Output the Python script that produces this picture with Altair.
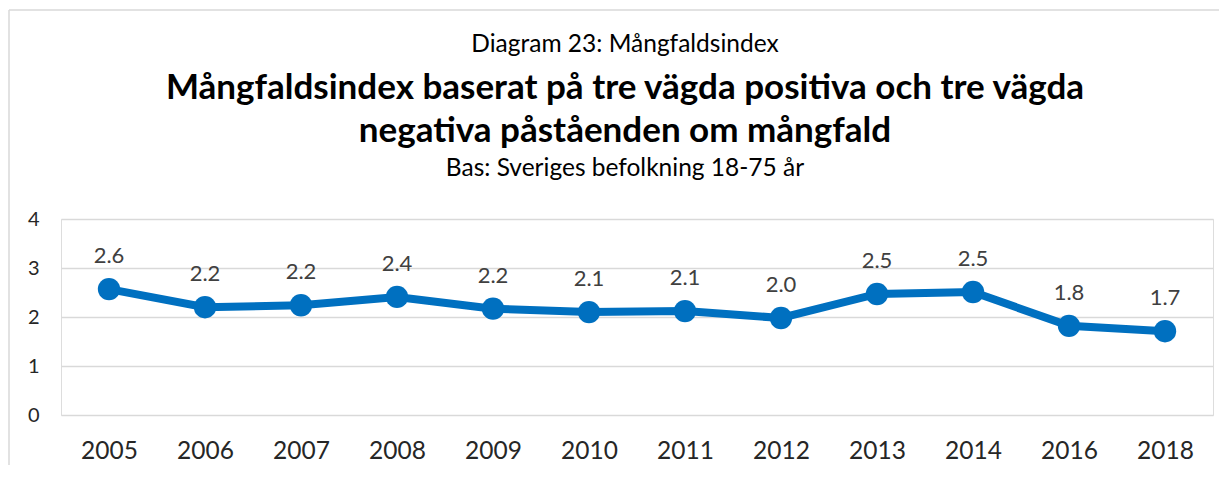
import altair as alt
import pandas as pd

years = ["2005", "2006", "2007", "2008", "2009", "2010", "2011", "2012", "2013", "2014", "2016", "2018"]
values = [2.57, 2.20, 2.24, 2.41, 2.17, 2.10, 2.12, 1.98, 2.47, 2.51, 1.82, 1.71]

pre_title = "Diagram 23: Mångfaldsindex"
title_lines = ["Mångfaldsindex baserat på tre vägda positiva och tre vägda",
               "negativa påståenden om mångfald"]
subtitle = "Bas: Sveriges befolkning 18-75 år"

df = pd.DataFrame({"year": years, "value": values})

FONT = "Lato"
BLUE = "#0070C0"

x = alt.X("year:N", sort=years, title=None,
          scale=alt.Scale(type="point", padding=0.5),
          axis=alt.Axis(labelAngle=0, labelFontSize=24.5, labelColor="#262626",
                        labelPadding=24, domain=False, ticks=False, grid=False,
                        labelFont=FONT))
y = alt.Y("value:Q", title=None,
          scale=alt.Scale(domain=[0, 4], nice=False),
          axis=alt.Axis(values=[0, 1, 2, 3, 4], labelFontSize=20, labelColor="#262626",
                        labelPadding=22, domain=False, ticks=False,
                        gridColor="#D9D9D9", gridWidth=1.5, labelFont=FONT))

base = alt.Chart(df)

line = base.mark_line(color=BLUE, strokeWidth=8).encode(x=x, y=y)
pts = base.mark_point(filled=True, opacity=1, color=BLUE, size=500).encode(x=x, y=y)
labels = base.mark_text(dy=-33, fontSize=22, color="#404040", font=FONT).encode(
    x=x, y=y, text=alt.Text("value:Q", format=".1f"))

W = 1152
H = 196
cx = 564  # centre of titles relative to plot origin

t0 = alt.Chart(pd.DataFrame({"t": [pre_title]})).mark_text(
    fontSize=24.5, font=FONT, color="#000000", align="center", baseline="middle").encode(
    x=alt.value(cx), y=alt.value(-174), text="t:N")
t1 = alt.Chart(pd.DataFrame({"t": [title_lines[0]]})).mark_text(
    fontSize=35, fontWeight="bold", font=FONT, color="#000000", align="center", baseline="middle").encode(
    x=alt.value(cx), y=alt.value(-131), text="t:N")
t2 = alt.Chart(pd.DataFrame({"t": [title_lines[1]]})).mark_text(
    fontSize=35, fontWeight="bold", font=FONT, color="#000000", align="center", baseline="middle").encode(
    x=alt.value(cx), y=alt.value(-88), text="t:N")
t3 = alt.Chart(pd.DataFrame({"t": [subtitle]})).mark_text(
    fontSize=24.5, font=FONT, color="#000000", align="center", baseline="middle").encode(
    x=alt.value(cx), y=alt.value(-50), text="t:N")

border_v = alt.Chart(pd.DataFrame({"a": [0]})).mark_rule(color="#D9D9D9", strokeWidth=1.5).encode(
    x=alt.value(-52), y=alt.value(-209), y2=alt.value(270))
border_h = alt.Chart(pd.DataFrame({"a": [0]})).mark_rule(color="#D9D9D9", strokeWidth=1.5).encode(
    x=alt.value(-52), x2=alt.value(1170), y=alt.value(-209))

chart = alt.layer(border_v, border_h, line, pts, labels, t0, t1, t2, t3).properties(
    width=W, height=H,
    autosize=alt.AutoSizeParams(type="none"),
    padding={"left": 53, "top": 211, "right": 6, "bottom": 50},
).configure_view(stroke=None).configure(background="#FFFFFF")

chart.save("out.html", embed_options={"renderer": "svg", "actions": False})
